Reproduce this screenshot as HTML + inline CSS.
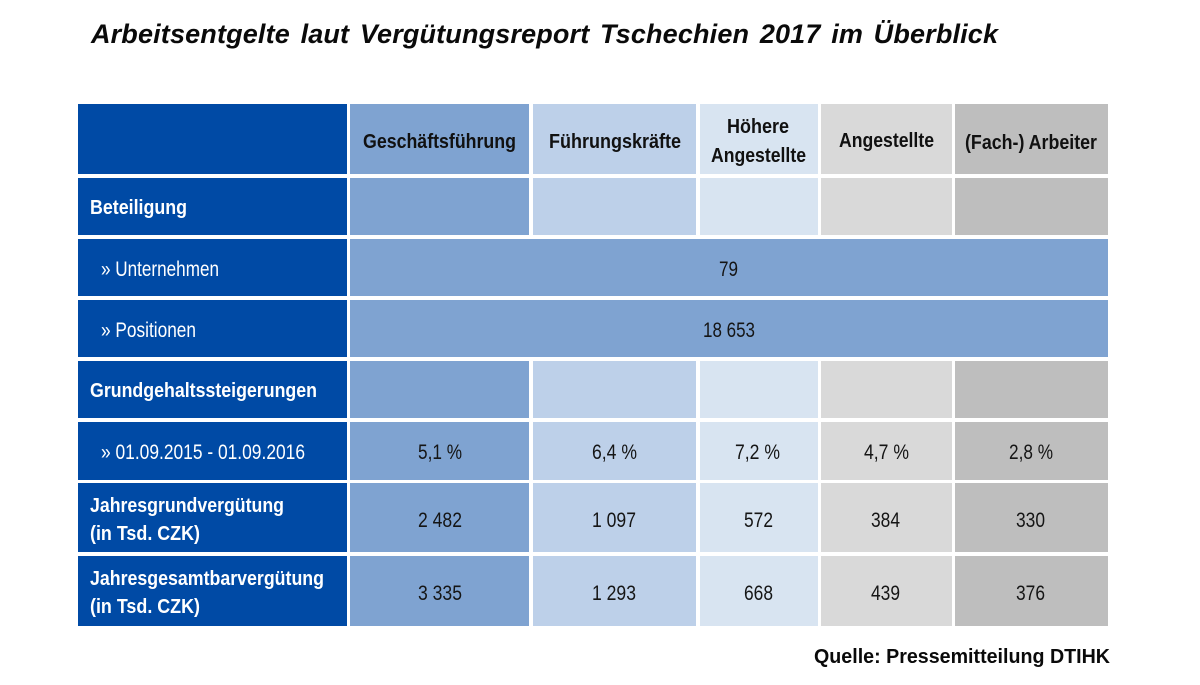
<!DOCTYPE html>
<html lang="de">
<head>
<meta charset="utf-8">
<title>Arbeitsentgelte laut Vergütungsreport Tschechien 2017 im Überblick</title>
<style>
html,body{margin:0;padding:0;background:#fff;width:1200px;height:685px;overflow:hidden}
svg{display:block}
text{font-family:"Liberation Sans",Arial,sans-serif;fill:#111}
.t{font-size:27px;font-weight:bold;font-style:italic;fill:#0a0a0a;word-spacing:3px}
.h{font-size:20px;font-weight:bold;fill:#111}
.b{font-size:20px;font-weight:bold;fill:#fff}
.r{font-size:21px;fill:#fff}
.v{font-size:21px;fill:#151515}
.q{font-size:20px;font-weight:bold;fill:#0a0a0a}
.n{fill:#004aa5}.c1{fill:#7fa3d1}.c2{fill:#bdd0e9}.c3{fill:#d8e4f1}.c4{fill:#d9d9d9}.c5{fill:#bebebe}
</style>
</head>
<body>
<svg width="1200" height="685" viewBox="0 0 1200 685" xmlns="http://www.w3.org/2000/svg">
<text class="t" x="91" y="43" textLength="907" lengthAdjust="spacing">Arbeitsentgelte laut Vergütungsreport Tschechien 2017 im Überblick</text>

<g>
<rect class="n" x="78" y="104" width="269" height="70"/>
<rect class="c1" x="350" y="104" width="179" height="70"/>
<rect class="c2" x="533" y="104" width="163" height="70"/>
<rect class="c3" x="700" y="104" width="118" height="70"/>
<rect class="c4" x="821" y="104" width="131" height="70"/>
<rect class="c5" x="955" y="104" width="153" height="70"/>
<text class="h" x="363" y="148" textLength="153" lengthAdjust="spacingAndGlyphs">Geschäftsführung</text>
<text class="h" x="549" y="148" textLength="132" lengthAdjust="spacingAndGlyphs">Führungskräfte</text>
<text class="h" x="727" y="133" textLength="62" lengthAdjust="spacingAndGlyphs">Höhere</text>
<text class="h" x="711" y="162" textLength="95" lengthAdjust="spacingAndGlyphs">Angestellte</text>
<text class="h" x="839" y="147" textLength="95" lengthAdjust="spacingAndGlyphs">Angestellte</text>
<text class="h" x="965" y="149" textLength="132" lengthAdjust="spacingAndGlyphs">(Fach-) Arbeiter</text>
</g>

<g>
<rect class="n" x="78" y="178" width="269" height="57"/>
<rect class="c1" x="350" y="178" width="179" height="57"/>
<rect class="c2" x="533" y="178" width="163" height="57"/>
<rect class="c3" x="700" y="178" width="118" height="57"/>
<rect class="c4" x="821" y="178" width="131" height="57"/>
<rect class="c5" x="955" y="178" width="153" height="57"/>
<text class="b" x="90" y="214" textLength="97" lengthAdjust="spacingAndGlyphs">Beteiligung</text>
</g>

<g>
<rect class="n" x="78" y="239" width="269" height="57"/>
<rect class="c1" x="350" y="239" width="758" height="57"/>
<text class="r" x="101" y="276" textLength="118" lengthAdjust="spacingAndGlyphs">» Unternehmen</text>
<text class="v" x="719" y="276" textLength="19" lengthAdjust="spacingAndGlyphs">79</text>
</g>

<g>
<rect class="n" x="78" y="300" width="269" height="57"/>
<rect class="c1" x="350" y="300" width="758" height="57"/>
<text class="r" x="101" y="337" textLength="95" lengthAdjust="spacingAndGlyphs">» Positionen</text>
<text class="v" x="703" y="337" textLength="52" lengthAdjust="spacingAndGlyphs">18 653</text>
</g>

<g>
<rect class="n" x="78" y="361" width="269" height="57"/>
<rect class="c1" x="350" y="361" width="179" height="57"/>
<rect class="c2" x="533" y="361" width="163" height="57"/>
<rect class="c3" x="700" y="361" width="118" height="57"/>
<rect class="c4" x="821" y="361" width="131" height="57"/>
<rect class="c5" x="955" y="361" width="153" height="57"/>
<text class="b" x="90" y="397" textLength="227" lengthAdjust="spacingAndGlyphs">Grundgehaltssteigerungen</text>
</g>

<g>
<rect class="n" x="78" y="422" width="269" height="58"/>
<rect class="c1" x="350" y="422" width="179" height="58"/>
<rect class="c2" x="533" y="422" width="163" height="58"/>
<rect class="c3" x="700" y="422" width="118" height="58"/>
<rect class="c4" x="821" y="422" width="131" height="58"/>
<rect class="c5" x="955" y="422" width="153" height="58"/>
<text class="r" x="101" y="459" textLength="204" lengthAdjust="spacingAndGlyphs">» 01.09.2015 - 01.09.2016</text>
<text class="v" x="418" y="459" textLength="44" lengthAdjust="spacingAndGlyphs">5,1 %</text>
<text class="v" x="592" y="459" textLength="45" lengthAdjust="spacingAndGlyphs">6,4 %</text>
<text class="v" x="735" y="459" textLength="45" lengthAdjust="spacingAndGlyphs">7,2 %</text>
<text class="v" x="864" y="459" textLength="45" lengthAdjust="spacingAndGlyphs">4,7 %</text>
<text class="v" x="1009" y="459" textLength="44" lengthAdjust="spacingAndGlyphs">2,8 %</text>
</g>

<g>
<rect class="n" x="78" y="483" width="269" height="69"/>
<rect class="c1" x="350" y="483" width="179" height="69"/>
<rect class="c2" x="533" y="483" width="163" height="69"/>
<rect class="c3" x="700" y="483" width="118" height="69"/>
<rect class="c4" x="821" y="483" width="131" height="69"/>
<rect class="c5" x="955" y="483" width="153" height="69"/>
<text class="b" x="90" y="512" textLength="194" lengthAdjust="spacingAndGlyphs">Jahresgrundvergütung</text>
<text class="b" x="90" y="540" textLength="110" lengthAdjust="spacingAndGlyphs">(in Tsd. CZK)</text>
<text class="v" x="418" y="527" textLength="44" lengthAdjust="spacingAndGlyphs">2 482</text>
<text class="v" x="592" y="527" textLength="44" lengthAdjust="spacingAndGlyphs">1 097</text>
<text class="v" x="744" y="527" textLength="29" lengthAdjust="spacingAndGlyphs">572</text>
<text class="v" x="871" y="527" textLength="29" lengthAdjust="spacingAndGlyphs">384</text>
<text class="v" x="1016" y="527" textLength="29" lengthAdjust="spacingAndGlyphs">330</text>
</g>

<g>
<rect class="n" x="78" y="556" width="269" height="70"/>
<rect class="c1" x="350" y="556" width="179" height="70"/>
<rect class="c2" x="533" y="556" width="163" height="70"/>
<rect class="c3" x="700" y="556" width="118" height="70"/>
<rect class="c4" x="821" y="556" width="131" height="70"/>
<rect class="c5" x="955" y="556" width="153" height="70"/>
<text class="b" x="90" y="585" textLength="234" lengthAdjust="spacingAndGlyphs">Jahresgesamtbarvergütung</text>
<text class="b" x="90" y="613" textLength="110" lengthAdjust="spacingAndGlyphs">(in Tsd. CZK)</text>
<text class="v" x="418" y="600" textLength="44" lengthAdjust="spacingAndGlyphs">3 335</text>
<text class="v" x="592" y="600" textLength="44" lengthAdjust="spacingAndGlyphs">1 293</text>
<text class="v" x="744" y="600" textLength="29" lengthAdjust="spacingAndGlyphs">668</text>
<text class="v" x="871" y="600" textLength="29" lengthAdjust="spacingAndGlyphs">439</text>
<text class="v" x="1016" y="600" textLength="29" lengthAdjust="spacingAndGlyphs">376</text>
</g>

<text class="q" x="814" y="663" textLength="296" lengthAdjust="spacingAndGlyphs">Quelle: Pressemitteilung DTIHK</text>
</svg>
</body>
</html>
